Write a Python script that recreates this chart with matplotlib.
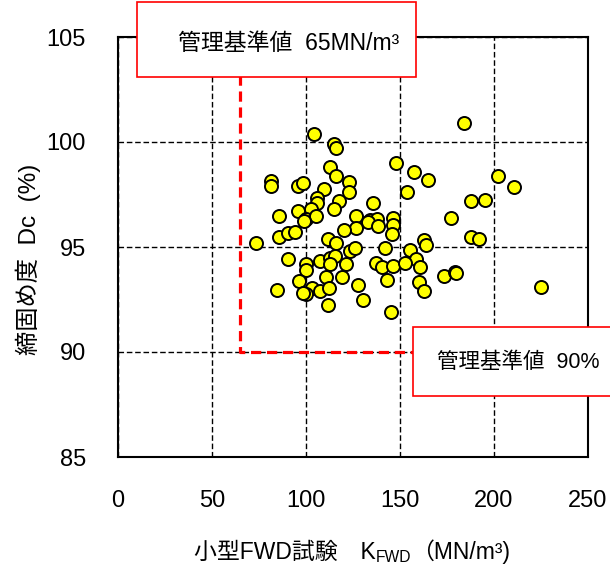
import matplotlib
matplotlib.use("Agg")
import matplotlib.pyplot as plt
from matplotlib.patches import Rectangle

plt.rcParams['font.family'] = ['Liberation Sans', 'Noto Sans CJK JP', 'DejaVu Sans']

# 小型FWD試験 K_FWD (MN/m3)
kfwd = [104.0, 114.9, 116.1, 183.9, 148.0, 81.6, 81.6, 112.9, 116.1, 95.6,
        98.3, 122.9, 122.9, 109.4, 105.8, 105.8, 117.4, 114.9, 135.4, 102.8,
        95.6, 85.8, 126.8, 134.0, 137.5, 146.4, 100.1, 105.5, 99.2, 133.1,
        138.4, 146.4, 145.6, 126.5, 120.2, 85.8, 90.3, 93.9, 73.4, 111.7,
        116.1, 123.3, 125.9, 142.0, 90.3, 100.1, 107.2, 112.6, 115.2, 112.6,
        121.5, 100.1, 119.0, 110.8, 137.2, 140.2, 146.4, 142.9, 96.5, 103.3,
        107.2, 112.2, 100.1, 98.3, 84.6, 127.7, 130.4, 111.7, 145.2, 157.5,
        164.8, 153.6, 202.2, 210.8, 188.0, 195.1, 177.1, 162.5, 163.7, 188.0,
        191.9, 155.3, 158.4, 152.7, 160.7, 173.2, 179.0, 179.8, 160.2, 163.0,
        224.9]
# 締固め度 Dc (%)
dc = [100.4, 99.9, 99.7, 100.9, 99.0, 98.15, 97.9, 98.8, 98.4, 97.9,
      98.05, 98.1, 97.6, 97.75, 97.35, 97.1, 97.2, 96.8, 97.1, 96.8,
      96.7, 96.5, 96.5, 96.3, 96.35, 96.4, 96.35, 96.5, 96.25, 96.2,
      96.0, 96.05, 95.6, 95.9, 95.8, 95.5, 95.65, 95.7, 95.2, 95.4,
      95.2, 94.8, 94.95, 94.95, 94.45, 94.2, 94.35, 94.5, 94.55, 94.2,
      94.2, 93.9, 93.55, 93.55, 94.25, 94.05, 94.1, 93.45, 93.4, 93.05,
      92.9, 93.05, 92.75, 92.8, 92.95, 93.2, 92.5, 92.25, 91.9, 98.55,
      98.2, 97.6, 98.4, 97.85, 97.2, 97.25, 96.4, 95.35, 95.1, 95.5,
      95.4, 94.85, 94.45, 94.25, 94.05, 93.6, 93.8, 93.75, 93.35, 92.9,
      93.1]

x_ticks = [0, 50, 100, 150, 200, 250]
y_ticks = [85, 90, 95, 100, 105]

# 管理基準値
k_limit = 65
dc_limit = 90

W, H = 610, 569
fig = plt.figure(figsize=(W / 100, H / 100), dpi=100)
ax = fig.add_axes([118 / W, (H - 457) / H, 470 / W, 420 / H])

ax.set_xlim(0, 250)
ax.set_ylim(85, 105)
ax.set_xticks(x_ticks)
ax.set_yticks(y_ticks)
ax.tick_params(direction='in', length=0, labelsize=17, pad=23)
ax.tick_params(axis='x', pad=24)
for s in ax.spines.values():
    s.set_linewidth(1.5)
    s.set_color('black')

ax.grid(True, color='black', linestyle=(0, (4, 2)), linewidth=1.0)
ax.set_axisbelow(True)

# 管理基準線
ax.plot([k_limit, k_limit, 160], [103.2, dc_limit, dc_limit], color='#ff0000',
        linewidth=2.3, linestyle=(0, (3.2, 1.8)), zorder=2, clip_on=False)

ax.scatter(kfwd, dc, s=88, facecolor='#ffff00', edgecolor='black',
           linewidth=1.4, zorder=3)

fig.text(28 / W, 1 - 259 / H, '締固め度  Dc  (%)', rotation=90,
         ha='center', va='center', fontsize=17.5)

# x軸ラベル（下付き文字を含むため分割して配置）
fs = 16.5
parts = [('小型FWD試験　K', fs, 0.0), ('FWD', fs * 0.68, -6.0),
         ('（MN/m³)', fs, 0.0)]
texts = [fig.text(0, 1 - 552 / H, p[0], fontsize=p[1], ha='left',
                  va='center') for p in parts]
fig.canvas.draw()
r = fig.canvas.get_renderer()
widths = [t.get_window_extent(r).width for t in texts]
x = 352 - sum(widths) / 2
for t, w, p in zip(texts, widths, parts):
    t.set_position((x / W, 1 - (552 - p[2]) / H))
    x += w

# 注記ボックス
b1 = Rectangle((137 / W, 1 - 77 / H), (416 - 137) / W, 75 / H,
               transform=fig.transFigure, facecolor='white',
               edgecolor='#ff0000', linewidth=1.2, zorder=10)
fig.add_artist(b1)
fig.text(289 / W, 1 - 44 / H, '管理基準値  65MN/m³', ha='center',
         va='center', fontsize=16.5, zorder=11)

b2 = Rectangle((413 / W, 1 - 396 / H), 250 / W, 69 / H,
               transform=fig.transFigure, facecolor='white',
               edgecolor='#ff0000', linewidth=1.2, zorder=10)
fig.add_artist(b2)
fig.text(437 / W, 1 - 362 / H, '管理基準値  90%', ha='left',
         va='center', fontsize=15.5, zorder=11)

fig.savefig('out.png', dpi=100)
